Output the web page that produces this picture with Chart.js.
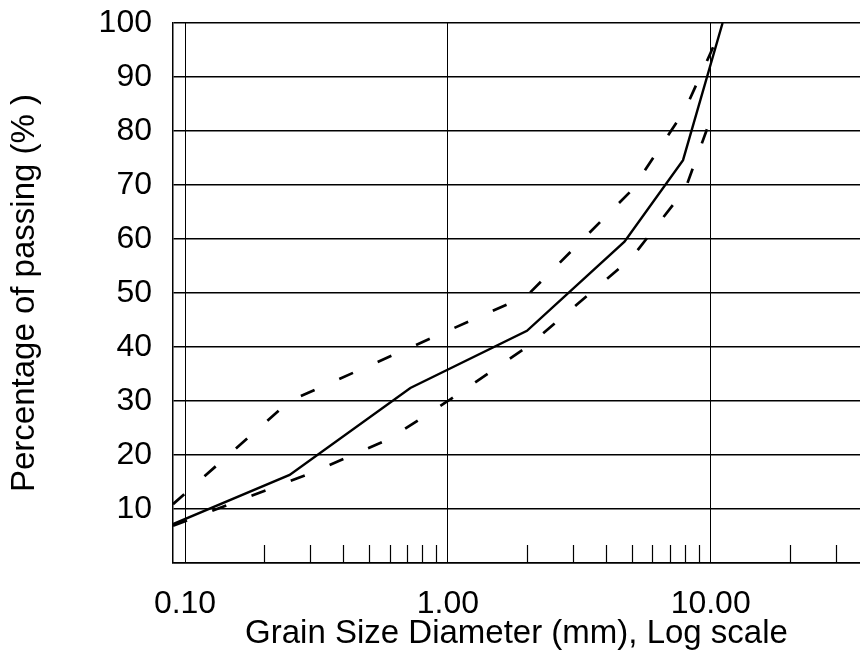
<!DOCTYPE html>
<html>
<head>
<meta charset="utf-8">
<script src="https://cdn.jsdelivr.net/npm/chart.js@4"></script>
<style>
  body { margin: 0; background: #fff; overflow: hidden; }
  canvas { display: block; }
</style>
</head>
<body>
<canvas id="gradingChart" width="860" height="663"></canvas>
<script>
  // grain size (mm) / percent passing
  const gradeSize = [0.09, 0.25, 0.72, 2.0, 4.7, 7.85, 11.1];
  const gradePass = [7.2, 16.3, 32.4, 43, 59.5, 74.6, 100];

  const upperSize = [0.09, 0.25, 2.0, 5.0, 8.0, 10.0, 11.2];
  const upperPass = [10.9, 30, 49.5, 69, 84, 94.5, 100];

  const lowerSize = [0.09, 0.3, 0.6, 1.0, 2.0, 5.0, 8.0, 10.4];
  const lowerPass = [6.9, 16.6, 23.0, 30, 40, 56.5, 69.2, 84.5];

  const xMajorTicks = [0.1, 1, 10];
  const xMinorTicks = [0.2, 0.3, 0.4, 0.5, 0.6, 0.7, 0.8, 0.9,
                       2, 3, 4, 5, 6, 7, 8, 9, 20, 30];
  const yTicks = [10, 20, 30, 40, 50, 60, 70, 80, 90, 100];

  const toPoints = (xs, ys) => xs.map((x, i) => ({x: x, y: ys[i]}));
  const tickFont = {family: '"Liberation Sans", Arial, sans-serif', size: 32};
  const titleFont = {family: '"Liberation Sans", Arial, sans-serif', size: 33};

  // short tick marks standing up from the bottom axis
  const minorTickPlugin = {
    id: 'minorTicks',
    afterDatasetsDraw(chart) {
      const xs = chart.scales.x;
      const bottom = chart.chartArea.bottom;
      const ctx = chart.ctx;
      ctx.save();
      ctx.strokeStyle = '#000';
      ctx.lineWidth = 1.2;
      xMinorTicks.forEach(v => {
        const px = Math.round(xs.getPixelForValue(v)) + 0.5;
        if (px > chart.chartArea.right) return;
        ctx.beginPath();
        ctx.moveTo(px, bottom);
        ctx.lineTo(px, bottom - 18);
        ctx.stroke();
      });
      ctx.restore();
    }
  };

  const ctx = document.getElementById('gradingChart').getContext('2d');
  new Chart(ctx, {
    type: 'line',
    data: {
      datasets: [{
        data: toPoints(gradeSize, gradePass),
        borderColor: '#000',
        borderWidth: 2.4,
        pointRadius: 0,
        tension: 0
      }, {
        data: toPoints(upperSize, upperPass),
        borderColor: '#000',
        borderWidth: 2.7,
        borderDash: [15, 27],
        pointRadius: 0,
        tension: 0
      }, {
        data: toPoints(lowerSize, lowerPass),
        borderColor: '#000',
        borderWidth: 2.7,
        borderDash: [15, 27],
        pointRadius: 0,
        tension: 0
      }]
    },
    options: {
      responsive: false,
      animation: false,
      layout: {
        padding: {top: 23, left: 0, right: 0, bottom: 0}
      },
      plugins: {
        legend: {display: false},
        tooltip: {enabled: false}
      },
      scales: {
        x: {
          type: 'logarithmic',
          min: 0.09,
          max: 37,
          afterBuildTicks: function(scale) {
            scale.ticks = xMajorTicks.map(v => ({value: v}));
          },
          afterFit: function(scale) {
            scale.height = 100;
            scale.paddingLeft = 0;
            scale.paddingRight = 0;
          },
          ticks: {
            color: '#000',
            font: tickFont,
            padding: 22,
            maxRotation: 0,
            autoSkip: false,
            callback: function(value) {
              return Number(value).toFixed(2);
            }
          },
          grid: {
            color: '#000',
            lineWidth: 1,
            drawTicks: false
          },
          border: {color: '#000', width: 1.5},
          title: {
            display: true,
            text: 'Grain Size Diameter (mm), Log scale',
            color: '#000',
            font: titleFont,
            padding: {top: 0, bottom: 9}
          }
        },
        y: {
          min: 0,
          max: 100,
          afterBuildTicks: function(scale) {
            scale.ticks = [0].concat(yTicks).map(v => ({value: v}));
          },
          afterFit: function(scale) {
            scale.width = 173;
            scale.paddingTop = 0;
            scale.paddingBottom = 0;
          },
          ticks: {
            color: '#000',
            font: tickFont,
            padding: 21,
            callback: function(value) {
              return value === 0 ? '' : String(value);
            }
          },
          grid: {
            color: '#000',
            lineWidth: 1.5,
            drawTicks: false
          },
          border: {color: '#000', width: 1.5},
          title: {
            display: true,
            text: 'Percentage of passing (% )',
            color: '#000',
            font: titleFont,
            padding: {top: 5, bottom: 0}
          }
        }
      }
    },
    plugins: [minorTickPlugin]
  });
</script>
</body>
</html>
